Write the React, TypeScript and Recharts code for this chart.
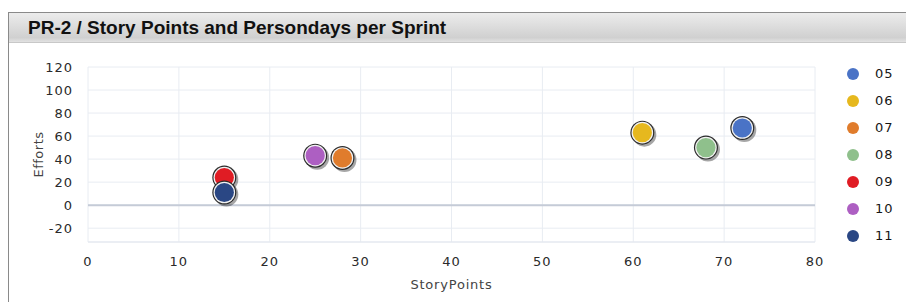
import React from 'react';
import { ScatterChart, Scatter, XAxis, YAxis, CartesianGrid, ReferenceLine } from 'recharts';

const sprints = ['05', '06', '07', '08', '09', '10', '11'];
const storyPoints = [72, 61, 28, 68, 15, 25, 15];
const efforts = [67, 63, 41, 50, 24, 43, 11];
const colors = ['#4a73c6', '#e6b81e', '#e07c2c', '#8fc08c', '#e01c24', '#ad5fc2', '#2a4784'];
const xTicks = [0, 10, 20, 30, 40, 50, 60, 70, 80];
const yTicks = [-20, 0, 20, 40, 60, 80, 100, 120];

const font = '"DejaVu Sans", Verdana, sans-serif';
const tickStyle = { fill: '#2a2a2a', fontSize: 13, fontFamily: font, letterSpacing: 1 };

// bubble with dark rim, light inner ring and a drop shadow
const Bubble = (color: string) => (props: any) => {
    const { cx, cy } = props;
    if (cx == null || cy == null) return <g />;
    return (
        <g>
            <circle cx={cx + 2} cy={cy + 2} r={12} fill="rgba(0,0,0,0.35)" />
            <circle cx={cx} cy={cy} r={12} fill="#2b2b2b" />
            <circle cx={cx} cy={cy} r={10.8} fill="#f2f2f2" />
            <circle cx={cx} cy={cy} r={9.6} fill={color} />
        </g>
    );
};

const EffortsLabel = (props: any) => {
    const { viewBox } = props;
    const x = 38;
    const y = viewBox.y + viewBox.height / 2;
    return (
        <text x={x} y={y} transform={`rotate(-90, ${x}, ${y})`} textAnchor="middle" dominantBaseline="central"
            fill="#444" fontSize={13} fontFamily={font} letterSpacing={0.5}>
            Efforts
        </text>
    );
};

export default function App() {
    return (
        <div style={{ position: 'absolute', left: 0, top: 0, width: 906, height: 302, background: '#fff', overflow: 'hidden' }}>
            {/* panel frame + title bar */}
            <div style={{
                position: 'absolute', left: 8, top: 12, width: 920, height: 300,
                borderLeft: '1px solid #8a8a8a', borderTop: '1px solid #8a8a8a'
            }}>
                <div style={{
                    height: 30, background: 'linear-gradient(#ececec, #d0d0d0 85%, #e2e2e2)',
                    borderBottom: '1px solid #c8c8c8', boxSizing: 'border-box', paddingLeft: 19,
                    fontFamily: '"Liberation Sans", Arial, sans-serif', fontWeight: 'bold', fontSize: 19,
                    lineHeight: '30px', color: '#111'
                }}>
                    PR-2 / Story Points and Persondays per Sprint
                </div>
            </div>

            <div style={{ position: 'absolute', left: 0, top: 0 }}>
                <ScatterChart width={906} height={302} margin={{ top: 67, right: 91, bottom: 10, left: 28 }}>
                    <CartesianGrid stroke="#e8ecf2" />
                    <XAxis type="number" dataKey="x" domain={[0, 80]} ticks={xTicks} height={50}
                        axisLine={{ stroke: '#e3e7ee' }} tickLine={false} tickMargin={9}
                        tick={tickStyle}
                        label={{ value: 'StoryPoints', position: 'insideBottom', offset: 3, fill: '#444', fontSize: 13, fontFamily: font, letterSpacing: 0.8 }} />
                    <YAxis type="number" dataKey="y" domain={[-32, 120]} ticks={yTicks} width={60}
                        axisLine={false} tickLine={false} tickMargin={9}
                        tick={tickStyle}
                        label={<EffortsLabel />} />
                    <ReferenceLine y={0} stroke="#c5cbd7" strokeWidth={2} />
                    {sprints.map((s, i) => (
                        <Scatter key={s} name={s} data={[{ x: storyPoints[i], y: efforts[i] }]}
                            fill={colors[i]} shape={Bubble(colors[i])} isAnimationActive={false} />
                    ))}
                </ScatterChart>
            </div>

            {/* legend */}
            <div style={{ position: 'absolute', left: 847, top: 60, fontFamily: font, fontSize: 13, color: '#161616', letterSpacing: 1 }}>
                {sprints.map((s, i) => (
                    <div key={s} style={{ display: 'flex', alignItems: 'center', height: 27 }}>
                        <span style={{ width: 12, height: 12, borderRadius: 6, background: colors[i], display: 'inline-block' }} />
                        <span style={{ marginLeft: 16 }}>{s}</span>
                    </div>
                ))}
            </div>
        </div>
    );
}
